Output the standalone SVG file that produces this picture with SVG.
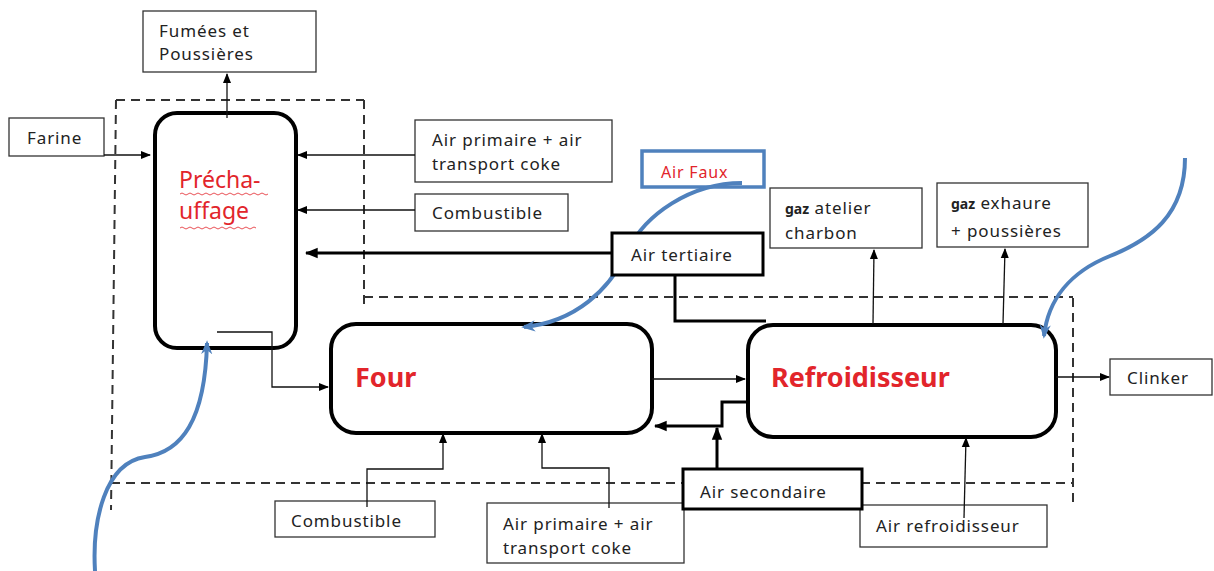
<svg xmlns="http://www.w3.org/2000/svg" width="1214" height="571" viewBox="0 0 1214 571">
<defs>
<style>
.box{fill:#fff;stroke:#333;stroke-width:1.3}
.tbox{fill:#fff;stroke:#000;stroke-width:3}
.proc{fill:#fff;stroke:#000;stroke-width:4}
.lbl{font-family:"Noto Sans","Open Sans",sans-serif;font-size:17px;letter-spacing:0.9px;fill:#222}
.red{font-family:"Noto Sans","Open Sans",sans-serif;fill:#e2252b}
.dash{fill:none;stroke:#333;stroke-width:2;stroke-dasharray:9,6}
.thin{fill:none;stroke:#111;stroke-width:1.3}
.thick{fill:none;stroke:#000;stroke-width:3}
.blue{fill:none;stroke:#4f81bd;stroke-width:4}
</style>
<marker id="ah" viewBox="0 0 10 10" refX="9" refY="5" markerWidth="10" markerHeight="10" markerUnits="userSpaceOnUse" orient="auto"><path d="M0,1 L10,5 L0,9 Z" fill="#000"/></marker>
<marker id="ahb" viewBox="0 0 10 10" refX="9" refY="5" markerWidth="13" markerHeight="13" markerUnits="userSpaceOnUse" orient="auto"><path d="M0,1 L10,5 L0,9 Z" fill="#000"/></marker>
<marker id="ahblue" viewBox="0 0 10 10" refX="8" refY="5" markerWidth="14" markerHeight="14" markerUnits="userSpaceOnUse" orient="auto"><path d="M0,1 L10,5 L0,9 L3,5 Z" fill="#4f81bd"/></marker>
</defs>
<rect width="1214" height="571" fill="#fff"/>

<g id="boundaries">
<path class="dash" d="M116,100 H364 M116,100 L111,510 M364,100 V310 M364,297 H1073 M1073,298 V502 M111,483 H1073"/>
</g>

<g id="fumees"><rect class="box" x="143" y="11" width="173" height="61"/><text class="lbl" x="159" y="37">Fumées et</text><text class="lbl" x="159" y="60">Poussières</text></g>
<g id="farine"><rect class="box" x="9" y="118" width="95" height="38"/><text class="lbl" x="27" y="144">Farine</text></g>
<g id="prechauffage"><rect class="proc" x="155" y="113" width="141" height="235" rx="22"/><text class="red" font-size="23" x="179" y="188">Précha-</text><text class="red" font-size="23" x="179" y="219">uffage</text>
<path d="M180,194 q2,-2 4,0 t4,0 t4,0 t4,0 t4,0 t4,0 t4,0 t4,0 t4,0 t4,0 t4,0 t4,0 t4,0 t4,0 t4,0 t4,0 t4,0 t4,0 t4,0 t4,0 t4,0 t4,0 M180,228 q2,-2 4,0 t4,0 t4,0 t4,0 t4,0 t4,0 t4,0 t4,0 t4,0 t4,0 t4,0 t4,0 t4,0 t4,0 t4,0 t4,0 t4,0 t4,0 t4,0" fill="none" stroke="#e2252b" stroke-width="0.8"/></g>
<g id="air-primaire-top"><rect class="box" x="415" y="120" width="197" height="62"/><text class="lbl" x="432" y="146">Air primaire + air</text><text class="lbl" x="432" y="170">transport coke</text></g>
<g id="combustible-top"><rect class="box" x="415" y="194" width="153" height="37"/><text class="lbl" x="432" y="219">Combustible</text></g>
<g id="air-faux"><rect x="642" y="151" width="122" height="36" fill="#fff" stroke="#4f81bd" stroke-width="3.5"/><text class="red" font-size="16" letter-spacing="0.8" x="661" y="178">Air Faux</text></g>
<g id="gaz-atelier"><rect class="box" x="770" y="188" width="152" height="60"/><text class="lbl" x="785" y="214"><tspan font-size="14" font-weight="bold" letter-spacing="0">gaz</tspan> atelier</text><text class="lbl" x="785" y="239">charbon</text></g>
<g id="gaz-exhaure"><rect class="box" x="937" y="183" width="151" height="64"/><text class="lbl" x="951" y="209"><tspan font-size="14" font-weight="bold" letter-spacing="0">gaz</tspan> exhaure</text><text class="lbl" x="951" y="237">+ poussières</text></g>
<g id="four"><rect class="proc" x="331" y="324" width="321" height="109" rx="25"/><text class="red" font-size="27" font-weight="bold" x="355" y="387">Four</text></g>
<g id="refroidisseur"><rect class="proc" x="748" y="325" width="308" height="112" rx="25"/><text class="red" font-size="27" font-weight="bold" x="771" y="387">Refroidisseur</text></g>
<g id="clinker"><rect class="box" x="1110" y="359" width="102" height="36"/><text class="lbl" x="1127" y="384">Clinker</text></g>
<g id="combustible-bottom"><rect class="box" x="275" y="501" width="160" height="36"/><text class="lbl" x="291" y="527">Combustible</text></g>
<g id="air-primaire-bottom"><rect class="box" x="487" y="503" width="197" height="60"/><text class="lbl" x="503" y="530">Air primaire + air</text><text class="lbl" x="503" y="554">transport coke</text></g>
<g id="air-refroidisseur"><rect class="box" x="860" y="505" width="187" height="42"/><text class="lbl" x="876" y="532">Air refroidisseur</text></g>
<g id="air-secondaire"><rect class="tbox" x="683" y="469" width="179" height="40"/><text class="lbl" x="700" y="498">Air secondaire</text></g>

<g id="connectors">
<path class="thin" d="M227,118 V74" marker-end="url(#ah)"/>
<path class="thin" d="M104,155 H150" marker-end="url(#ah)"/>
<path class="thin" d="M415,155 H298" marker-end="url(#ah)"/>
<path class="thin" d="M415,210 H298" marker-end="url(#ah)"/>
<path class="thick" d="M612,253 H306" marker-end="url(#ahb)"/>
<path class="thick" d="M675,276 V321 H766"/>
<path class="thin" d="M217,332 H272 V387 H328" marker-end="url(#ah)"/>
<path class="thin" d="M652,379 H745" marker-end="url(#ah)"/>
<path class="thin" d="M873,324 L874,250" marker-end="url(#ah)"/>
<path class="thin" d="M1003,324 L1005,249" marker-end="url(#ah)"/>
<path class="thin" d="M1056,377 H1109" marker-end="url(#ah)"/>
<path class="thin" d="M367,507 V469 H443 V434" marker-end="url(#ah)"/>
<path class="thin" d="M609,508 V468 H542 V434" marker-end="url(#ah)"/>
<path class="thick" d="M747,402 H722 V426 H655" marker-end="url(#ahb)"/>
<path class="thick" d="M717,469 V428" marker-end="url(#ahb)"/>
<path class="thin" d="M964,518 L966,438" marker-end="url(#ah)"/>
<path class="blue" d="M742,183 C690,183 645,215 628,250 C610,290 575,322 524,327" marker-end="url(#ahblue)"/>
<path class="blue" d="M95,571 C92,520 105,463 145,457 C182,452 205,420 207,343" marker-end="url(#ahblue)"/>
<path class="blue" d="M1185,158 C1185,215 1150,240 1110,256 C1070,272 1048,300 1044,336" marker-end="url(#ahblue)"/>
</g>

<g id="air-tertiaire"><rect class="tbox" x="612" y="233" width="151" height="42"/><text class="lbl" x="631" y="261">Air tertiaire</text></g>
</svg>
